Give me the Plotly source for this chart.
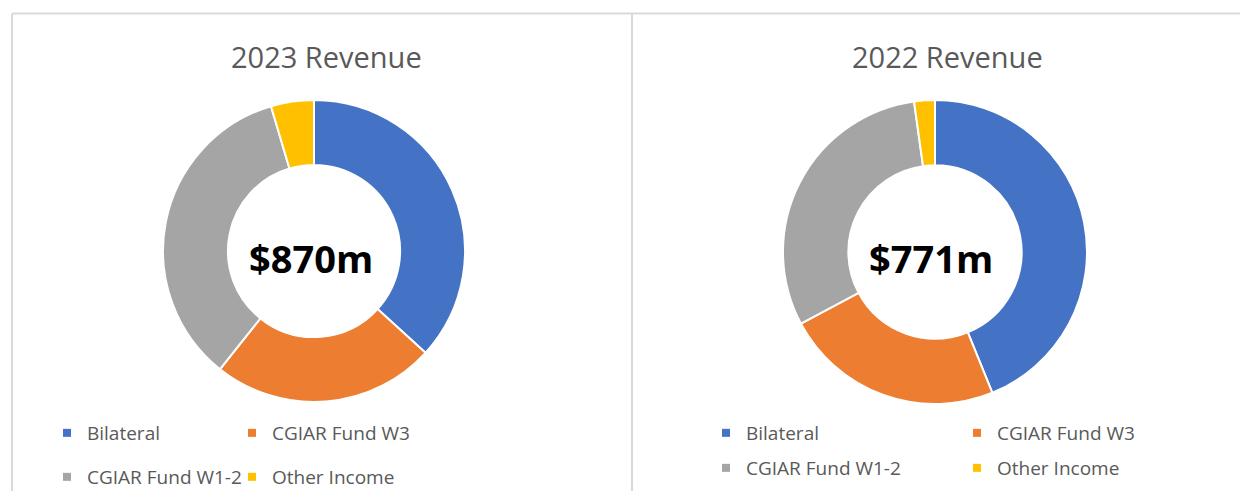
import plotly.graph_objects as go

W, H = 1240, 491

categories = ["Bilateral", "CGIAR Fund W3", "CGIAR Fund W1-2", "Other Income"]
values_2023 = [320, 208, 302, 40]
values_2022 = [338, 180, 236, 17]
colors = ["#4472C4", "#ED7D31", "#A5A5A5", "#FFC000"]
titles = ["2023 Revenue", "2022 Revenue"]
totals = ["$870m", "$771m"]

def px(x):
    return x / W

def py(y):
    return 1 - y / H

fig = go.Figure()

# donuts
pie_specs = [
    (values_2023, (314, 251, 151)),
    (values_2022, (935, 252, 152)),
]
for vals, (cx, cy, r) in pie_specs:
    fig.add_trace(go.Pie(
        labels=categories, values=vals, sort=False, direction="clockwise",
        rotation=0, hole=0.57, textinfo="none", showlegend=False,
        marker=dict(colors=colors, line=dict(color="white", width=2)),
        domain=dict(x=[px(cx - r), px(cx + r)], y=[py(cy + r), py(cy - r)]),
    ))

# legend entries (four single-row legends, two per panel)
legend_map = [
    ("legend", "legend2"),
    ("legend3", "legend4"),
]
for panel, (lg_row1, lg_row2) in enumerate(legend_map):
    for i, (cat, col) in enumerate(zip(categories, colors)):
        fig.add_trace(go.Scatter(
            x=[None], y=[None], mode="markers", name=cat,
            marker=dict(symbol="square", size=8, color=col),
            legend=lg_row1 if i < 2 else lg_row2, hoverinfo="skip",
        ))

leg_font = dict(family="Open Sans", size=19, color="#595959")
def leg(x, y, ew):
    return dict(orientation="h", x=px(x), y=py(y), xanchor="left", yanchor="middle",
                entrywidth=ew, entrywidthmode="pixels", font=leg_font,
                bgcolor="rgba(0,0,0,0)", borderwidth=0, itemclick=False, itemdoubleclick=False)

fig.update_layout(
    width=W, height=H,
    margin=dict(l=0, r=0, t=0, b=0, autoexpand=False),
    paper_bgcolor="white", plot_bgcolor="white",
    xaxis=dict(visible=False), yaxis=dict(visible=False),
    legend=leg(47, 433, 140),
    legend2=leg(47, 477, 140),
    legend3=leg(706, 433, 206),
    legend4=leg(706, 468, 206),
)

# titles and centre totals
for tx, cx in zip(titles, [326, 947]):
    fig.add_annotation(text=tx, x=px(cx), y=py(57), xref="paper", yref="paper",
                       showarrow=False, xanchor="center", yanchor="middle",
                       font=dict(family="Open Sans", size=29, color="#595959"))
for tt, cx in zip(totals, [311, 931]):
    fig.add_annotation(text="<b>" + tt + "</b>", x=px(cx), y=py(258), xref="paper", yref="paper",
                       showarrow=False, xanchor="center", yanchor="middle",
                       font=dict(family="Open Sans", size=38, color="black"))

# panel borders
border = dict(color="#D9D9D9", width=2)
fig.add_shape(type="line", xref="paper", yref="paper", x0=px(12), x1=1, y0=py(13.5), y1=py(13.5), line=border)
fig.add_shape(type="line", xref="paper", yref="paper", x0=px(12), x1=px(12), y0=py(13.5), y1=0, line=border)
fig.add_shape(type="line", xref="paper", yref="paper", x0=px(632), x1=px(632), y0=py(13.5), y1=0, line=border)

fig.write_html("out.html", config={"displayModeBar": False},
               post_script="document.body.style.margin='0';document.body.style.overflow='hidden';")
